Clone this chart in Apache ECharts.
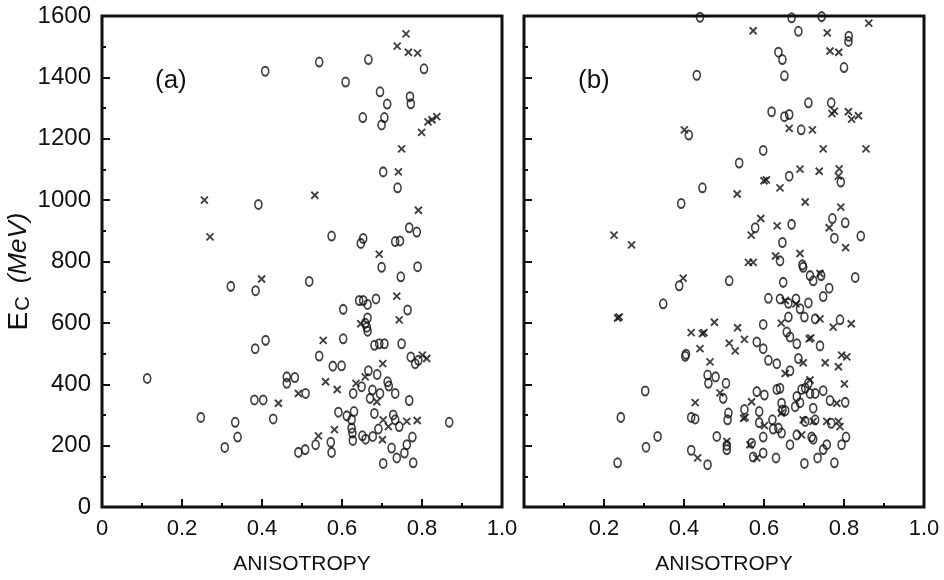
<!DOCTYPE html>
<html>
<head>
<meta charset="utf-8">
<script src="https://cdn.jsdelivr.net/npm/echarts@6/dist/echarts.min.js"></script>
<style>
  html, body { margin: 0; padding: 0; background: #fff; }
  #chart { width: 944px; height: 580px; }
</style>
</head>
<body>
<div id="chart"></div>
<script>
// Cutoff energy E_C (MeV) versus anisotropy, two event samples (a) and (b).
// Each point is [anisotropy, E_C]; open circles and crosses are separate classes.

const yTicks = [0, 200, 400, 600, 800, 1000, 1200, 1400, 1600];
const xTicks = [0, 0.2, 0.4, 0.6, 0.8, 1.0];

const aCircles = [
  [0.408,1420],[0.391,986],[0.543,1450],[0.666,1458],[0.805,1428],[0.609,1385],[0.695,1353],
  [0.713,1313],[0.770,1337],[0.772,1314],[0.652,1269],[0.706,1269],[0.699,1245],[0.703,1092],
  [0.739,1040],[0.768,910],[0.787,896],[0.574,883],[0.653,875],[0.647,859],[0.733,865],[0.745,867],
  [0.322,719],[0.384,705],[0.383,516],[0.409,543],[0.113,419],[0.462,424],[0.462,403],[0.482,422],
  [0.381,349],[0.403,349],[0.247,292],[0.333,276],[0.428,287],[0.339,228],[0.307,194],
  [0.699,781],[0.789,783],[0.747,750],[0.518,735],[0.643,673],[0.653,673],[0.664,660],[0.685,678],
  [0.603,644],[0.764,642],[0.664,616],[0.658,599],[0.662,586],[0.664,573],[0.603,548],[0.681,527],
  [0.693,532],[0.706,532],[0.749,532],[0.543,492],[0.772,489],[0.783,467],[0.791,478],[0.577,459],
  [0.599,460],[0.666,444],[0.688,432],[0.649,392],[0.714,408],[0.717,394],[0.628,370],[0.676,381],
  [0.695,370],[0.670,354],[0.733,370],[0.509,370],[0.768,347],[0.591,309],[0.612,297],[0.630,311],
  [0.624,284],[0.681,305],[0.728,300],[0.733,284],[0.743,262],[0.868,276],[0.624,257],[0.626,241],
  [0.627,217],[0.651,232],[0.659,221],[0.677,230],[0.691,254],[0.776,228],[0.762,203],[0.756,176],
  [0.572,211],[0.574,178],[0.534,203],[0.491,178],[0.508,187],[0.724,192],[0.737,160],[0.703,142],
  [0.778,144]
];

const aCrosses = [
  [0.256,1000],[0.270,880],[0.760,1542],[0.738,1502],[0.766,1482],[0.789,1479],[0.815,1255],
  [0.825,1262],[0.837,1272],[0.799,1221],[0.749,1167],[0.741,1092],[0.532,1016],[0.791,967],
  [0.693,824],[0.399,743],[0.441,338],[0.737,687],[0.743,610],[0.647,597],[0.553,543],[0.801,495],
  [0.812,484],[0.702,467],[0.658,424],[0.559,408],[0.635,403],[0.588,383],[0.491,370],[0.687,343],
  [0.703,284],[0.716,262],[0.762,279],[0.788,282],[0.541,232],[0.581,252],[0.701,219]
];

const bCircles = [
  [0.440,1596],[0.432,1407],[0.412,1212],[0.446,1040],[0.393,989],[0.669,1594],[0.744,1598],
  [0.686,1550],[0.812,1534],[0.811,1517],[0.636,1482],[0.646,1458],[0.800,1432],[0.651,1405],
  [0.711,1317],[0.768,1317],[0.619,1288],[0.651,1272],[0.663,1279],[0.693,1229],[0.598,1162],
  [0.538,1121],[0.663,1078],[0.792,1059],[0.578,910],[0.669,921],[0.771,940],[0.803,926],
  [0.776,876],[0.842,883],[0.646,862],
  [0.640,802],[0.696,789],[0.698,781],[0.715,754],[0.723,737],[0.743,754],[0.828,748],[0.513,737],
  [0.648,732],[0.763,713],[0.748,686],[0.611,680],[0.640,678],[0.661,664],[0.680,678],[0.690,646],
  [0.711,665],[0.661,619],[0.701,619],[0.728,613],[0.790,610],[0.598,595],[0.657,570],[0.665,554],
  [0.682,532],[0.740,525],[0.582,538],[0.598,516],[0.611,478],[0.632,467],[0.686,484],[0.665,444],
  [0.459,430],[0.479,424],[0.461,403],[0.505,403],[0.711,403],[0.498,354],[0.582,376],[0.601,365],
  [0.632,383],[0.640,387],[0.682,360],[0.694,383],[0.703,387],[0.715,370],[0.728,370],[0.748,379],
  [0.551,318],[0.588,311],[0.511,306],[0.509,284],[0.644,338],[0.646,316],[0.653,314],[0.678,327],
  [0.690,340],[0.723,322],[0.765,347],[0.803,341],[0.588,275],[0.621,284],[0.623,254],[0.636,257],
  [0.644,241],[0.703,279],[0.728,284],[0.768,273],[0.682,235],[0.719,228],[0.723,221],[0.598,228],
  [0.665,203],[0.482,230],[0.507,201],[0.507,187],[0.569,208],[0.573,163],[0.598,176],[0.630,160],
  [0.757,203],[0.748,187],[0.734,160],[0.794,203],[0.805,228],[0.701,142],[0.776,144],[0.459,138],
  [0.388,721],[0.348,662],[0.405,498],[0.403,491],[0.303,378],[0.418,292],[0.428,287],[0.242,292],
  [0.334,230],[0.305,195],[0.418,185],[0.234,144]
];

const bCrosses = [
  [0.401,1229],[0.225,886],[0.269,854],[0.573,1552],[0.758,1545],[0.862,1577],[0.765,1486],
  [0.787,1482],[0.770,1282],[0.776,1290],[0.811,1288],[0.836,1275],[0.819,1264],[0.663,1234],
  [0.721,1229],[0.748,1167],[0.855,1167],[0.690,1101],[0.738,1094],[0.788,1102],[0.786,1078],
  [0.600,1063],[0.606,1066],[0.640,1040],[0.533,1020],[0.703,994],[0.792,977],[0.592,940],
  [0.568,886],[0.633,916],[0.763,910],[0.804,845],[0.629,818],[0.690,826],
  [0.561,797],[0.573,797],[0.740,761],[0.653,673],[0.680,662],[0.740,613],[0.773,586],[0.818,597],
  [0.476,602],[0.534,584],[0.643,599],[0.446,565],[0.450,568],[0.713,548],[0.717,551],[0.513,534],
  [0.528,509],[0.551,546],[0.440,516],[0.465,473],[0.698,470],[0.753,470],[0.786,457],[0.794,495],
  [0.807,489],[0.653,435],[0.715,414],[0.801,401],[0.490,372],[0.569,343],[0.782,338],[0.549,289],
  [0.553,292],[0.601,265],[0.643,306],[0.698,284],[0.723,279],[0.757,279],[0.786,279],[0.790,262],
  [0.694,235],[0.507,214],[0.565,203],[0.582,160],[0.434,160],
  [0.398,746],[0.234,616],[0.238,619],[0.418,568],[0.428,340]
];

const FONT = "'Liberation Sans', Arial, sans-serif";
const TICK_FONT = "'Liberation Sans Narrow', 'Liberation Sans', Arial, sans-serif";
const INK = '#111';

function xAxisFor(gridIndex, showZero) {
  return {
    gridIndex: gridIndex,
    type: 'value',
    min: xTicks[0],
    max: xTicks[xTicks.length - 1],
    interval: 0.2,
    axisLine: { show: false },
    axisTick: { show: true, inside: true, length: 8, lineStyle: { color: INK, width: 2 } },
    minorTick: { show: true, splitNumber: 2, length: 4, lineStyle: { color: INK, width: 2 } },
    splitLine: { show: false },
    axisLabel: {
      color: INK, fontFamily: TICK_FONT, fontSize: 22, margin: 11,
      formatter: function (v) {
        if (v === 0) return showZero ? '0' : '';
        return v.toFixed(1);
      }
    },
    name: 'ANISOTROPY',
    nameLocation: 'middle',
    nameGap: 47,
    nameTextStyle: { color: INK, fontFamily: FONT, fontSize: 21 }
  };
}

function yAxisFor(gridIndex, showLabels) {
  const ax = {
    gridIndex: gridIndex,
    type: 'value',
    min: yTicks[0],
    max: yTicks[yTicks.length - 1],
    interval: 200,
    axisLine: { show: false },
    axisTick: { show: true, inside: true, length: 8, lineStyle: { color: INK, width: 2 } },
    minorTick: { show: true, splitNumber: 2, length: 4, lineStyle: { color: INK, width: 2 } },
    splitLine: { show: false },
    axisLabel: {
      show: showLabels, color: INK, fontFamily: TICK_FONT, fontSize: 24, margin: 11,
      formatter: function (v) { return String(v); }
    }
  };
  if (showLabels) {
    ax.name = '{e|E}{c|C}{s|}{u|(MeV)}{t|}';
    ax.nameLocation = 'middle';
    ax.nameRotate = 90;
    ax.nameGap = 67;
    ax.nameTextStyle = {
      color: INK, fontFamily: FONT,
      rich: {
        e: { fontSize: 28, color: INK, fontFamily: FONT },
        c: { fontSize: 20, color: INK, fontFamily: FONT, verticalAlign: 'bottom', padding: [9, 0, 0, 1] },
        s: { width: 13, fontSize: 20 },
        u: { fontSize: 26, color: INK, fontFamily: FONT, fontStyle: 'italic' },
        t: { width: 20, fontSize: 20 }
      }
    };
  }
  return ax;
}

const circleStyle = {
  symbol: 'circle',
  symbolSize: [7, 9],
  itemStyle: { color: 'rgba(0,0,0,0)', borderColor: INK, borderWidth: 1.8 }
};
const crossStyle = {
  symbol: 'path://M0,0L10,10M10,0L0,10',
  symbolSize: [7, 7],
  itemStyle: { color: 'rgba(0,0,0,0)', borderColor: INK, borderWidth: 1.9 }
};

function scatter(data, style, idx) {
  return Object.assign({
    type: 'scatter',
    xAxisIndex: idx,
    yAxisIndex: idx,
    data: data,
    silent: true,
    z: 3
  }, style);
}

const chart = echarts.init(document.getElementById('chart'), null, { renderer: 'canvas' });
chart.setOption({
  backgroundColor: '#fff',
  animation: false,
  grid: [
    { left: 102, top: 16, width: 400, height: 495, show: true, borderColor: INK, borderWidth: 3, backgroundColor: 'transparent' },
    { left: 524, top: 16, width: 400, height: 495, show: true, borderColor: INK, borderWidth: 3, backgroundColor: 'transparent' }
  ],
  xAxis: [xAxisFor(0, true), xAxisFor(1, false)],
  yAxis: [yAxisFor(0, true), yAxisFor(1, false)],
  graphic: [
    { type: 'text', left: 155, top: 68, style: { text: '(a)', fill: INK, font: "26px 'Liberation Sans', Arial, sans-serif" } },
    { type: 'text', left: 578, top: 68, style: { text: '(b)', fill: INK, font: "26px 'Liberation Sans', Arial, sans-serif" } }
  ],
  series: [
    scatter(aCircles, circleStyle, 0),
    scatter(aCrosses, crossStyle, 0),
    scatter(bCircles, circleStyle, 1),
    scatter(bCrosses, crossStyle, 1)
  ]
});
</script>
</body>
</html>
